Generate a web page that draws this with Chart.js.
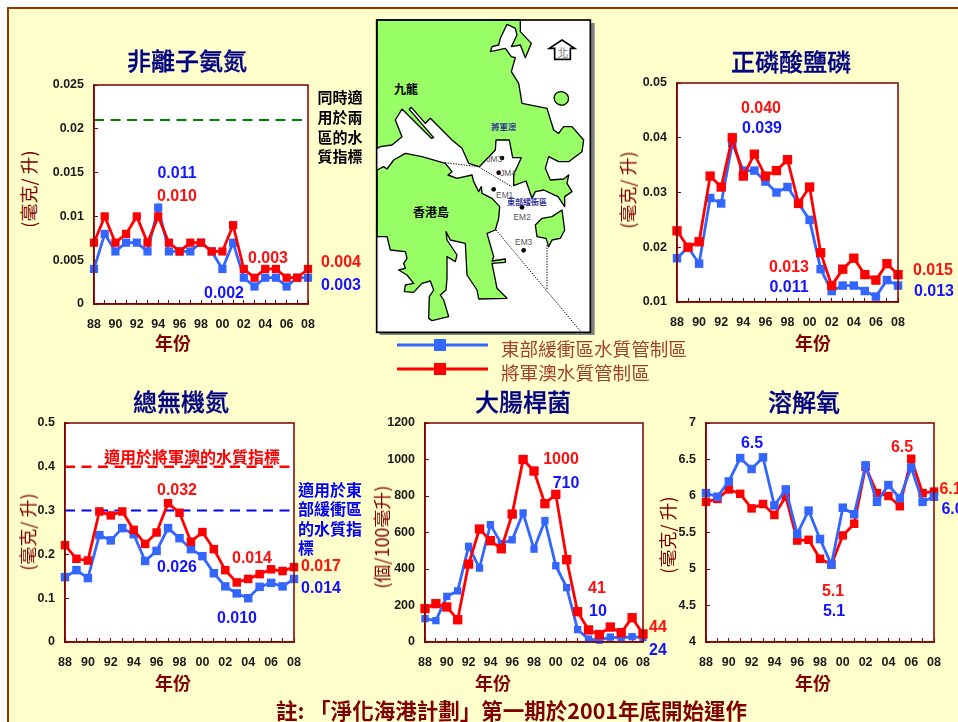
<!DOCTYPE html>
<html>
<head>
<meta charset="utf-8">
<script src="https://cdn.jsdelivr.net/npm/chart.js@4"></script>
<style>
html, body { margin: 0; padding: 0; background: #fff; }
body { width: 958px; height: 722px; overflow: hidden; position: relative; font-family: "Liberation Sans", sans-serif; }
#frame { position: absolute; left: 7px; top: 7px; width: 960px; height: 730px; box-sizing: border-box; border: 2.5px solid #993300; background: #ffffcc; }
canvas { position: absolute; }
.t { position: absolute; white-space: nowrap; transform: translate(-50%, -50%); line-height: 1; }
.num { font: bold 16px "Liberation Sans", sans-serif; }
.cjk { font-family: "Noto Sans CJK TC", sans-serif; }
.head { font-size: 24px; color: #000080; font-weight: 500; -webkit-text-stroke: 0.3px #000080; }
.xt { font-size: 18px; color: #800000; font-weight: bold; }
.yt { font-size: 18px; color: #800000; transform: translate(-50%, -50%) rotate(-90deg); }
svg { position: absolute; }
</style>
</head>
<body>
<div id="frame"></div>

<svg style="left:372px;top:15px" width="225" height="320" viewBox="0 0 675 960">
  <rect x="23" y="24" width="645" height="936" fill="#808080"/>
  <rect x="14" y="15" width="641" height="937" fill="#fff"/>
  <g fill="#99ff66" stroke="#000" stroke-width="4" stroke-linejoin="round">
    <path d="M15 15 L445 15 L445 50 L478 85 L460 128 L445 90 L418 95 L435 60 L430 40 L405 28 L385 70 L380 90 L360 95 L355 110 L400 100 L418 125 L430 128 L418 170 L440 205 L450 265 L525 280 L545 345 L560 355 L575 335 L600 335 L635 375 L630 410 L590 440 L560 440 L530 425 L520 460 L535 495 L575 492 L590 480 L585 505 L600 530 L578 545 L578 575 L558 545 L515 525 L490 530 L480 550 L462 498 L425 512 L425 478 L448 428 L422 428 L412 375 L372 375 L370 405 L322 455 L290 445 L270 400 L240 375 L175 310 L160 325 L118 277 L112 283 L185 368 L178 370 L90 282 L70 315 L90 365 L60 390 L25 395 L15 400 Z"/>
    <path d="M15 465 L35 455 L45 462 L65 435 L100 415 L150 425 L220 445 L240 470 L228 480 L255 490 L300 480 L305 500 L320 530 L328 515 L330 535 L360 550 L383 575 L380 610 L370 645 L345 655 L365 725 L360 738 L400 732 L400 742 L360 745 L375 820 L405 850 L320 852 L315 825 L285 780 L280 685 L235 675 L222 650 L225 675 L255 720 L250 740 L225 725 L225 790 L222 825 L205 840 L215 855 L230 905 L180 917 L170 910 L172 845 L185 825 L175 798 L150 805 L125 832 L97 830 L100 810 L125 805 L105 780 L80 765 L100 760 L95 745 L105 730 L100 710 L55 705 L45 665 L15 665 Z"/>
    <path d="M490 630 L510 610 L540 605 L570 585 L578 645 L565 670 L540 675 L530 695 L522 670 L495 665 Z"/>
    <ellipse cx="568" cy="250" rx="22" ry="20" transform="rotate(20 568 250)"/>
  </g>
  <g fill="none" stroke="#000" stroke-width="3" stroke-dasharray="4 4">
    <path d="M219 443 L319 455 L419 515"/>
    <path d="M372 645 L625 948"/>
    <path d="M525 690 L525 825"/>
  </g>
  <rect x="14" y="15" width="641" height="937" fill="none" stroke="#000" stroke-width="5"/>
  <g fill="#000">
    <circle cx="390" cy="429" r="7"/><circle cx="380" cy="473" r="7"/><circle cx="365" cy="523" r="7"/><circle cx="450" cy="577" r="7"/><circle cx="455" cy="706" r="7"/>
  </g>
  <path d="M570 75 L608 100 L595 100 L595 133 L548 133 L548 100 L532 100 Z" fill="#fff" stroke="#000" stroke-width="5"/>
  <text x="572" y="126" font-size="33" fill="#777" text-anchor="middle" font-family="Noto Sans CJK TC">北</text>
  <g font-family="Liberation Sans" font-size="25" fill="#555" text-anchor="middle">
    <text x="367" y="440">JM3</text><text x="408" y="482">JM4</text><text x="398" y="548">EM1</text><text x="450" y="614">EM2</text><text x="455" y="689">EM3</text>
  </g>
  <g font-family="Noto Sans CJK TC" font-weight="bold" text-anchor="middle">
    <text x="102" y="238" font-size="36" fill="#000">九龍</text>
    <text x="177" y="606" font-size="36" fill="#000">香港島</text>
    <text x="395" y="346" font-size="25" fill="#333399">將軍澳</text>
    <text x="465" y="570" font-size="24" fill="#333399">東部緩衝區</text>
  </g>
</svg>

<svg style="left:390px;top:335px" width="105" height="45">
  <line x1="7" y1="10" x2="98" y2="10" stroke="#3366ff" stroke-width="3"/>
  <rect x="44" y="4" width="12" height="12" fill="#3366ff"/>
  <line x1="7" y1="34" x2="98" y2="34" stroke="#ff0000" stroke-width="3"/>
  <rect x="44" y="28" width="12" height="12" fill="#ff0000"/>
</svg>

<script>
const years = ['88','89','90','91','92','93','94','95','96','97','98','99','00','01','02','03','04','05','06','07','08'];

// 非離子氨氮
const nh3Ticks = [0, 0.005, 0.01, 0.015, 0.02, 0.025];
const nh3East = [0.004,0.008,0.006,0.007,0.007,0.006,0.011,0.006,0.006,0.006,0.007,0.006,0.004,0.007,0.003,0.002,0.003,0.003,0.002,0.003,0.003];
const nh3Junk = [0.007,0.010,0.007,0.008,0.010,0.007,0.010,0.007,0.006,0.007,0.007,0.006,0.006,0.009,0.004,0.003,0.004,0.004,0.003,0.003,0.004];
const nh3Limit = [0.021,0.021,0.021,0.021,0.021,0.021,0.021,0.021,0.021,0.021,0.021,0.021,0.021,0.021,0.021,0.021,0.021,0.021,0.021,0.021,0.021];

// 正磷酸鹽磷
const po4Ticks = [0.01, 0.02, 0.03, 0.04, 0.05];
const po4East = [0.018,0.020,0.017,0.029,0.028,0.039,0.034,0.034,0.032,0.030,0.031,0.028,0.025,0.016,0.012,0.013,0.013,0.012,0.011,0.014,0.013];
const po4Junk = [0.023,0.020,0.021,0.033,0.031,0.040,0.033,0.037,0.033,0.034,0.036,0.028,0.031,0.019,0.013,0.016,0.018,0.015,0.014,0.017,0.015];

// 總無機氮
const tinTicks = [0, 0.1, 0.2, 0.3, 0.4, 0.5];
const tinEast = [0.148,0.164,0.146,0.244,0.232,0.260,0.246,0.185,0.208,0.260,0.237,0.212,0.196,0.157,0.127,0.111,0.100,0.126,0.135,0.127,0.144];
const tinJunk = [0.221,0.190,0.186,0.298,0.289,0.298,0.256,0.224,0.250,0.317,0.295,0.229,0.251,0.212,0.164,0.136,0.144,0.155,0.166,0.162,0.171];
const tinLimitJunk = [0.4,0.4,0.4,0.4,0.4,0.4,0.4,0.4,0.4,0.4,0.4,0.4,0.4,0.4,0.4,0.4,0.4,0.4,0.4,0.4,0.4];
const tinLimitEast = [0.3,0.3,0.3,0.3,0.3,0.3,0.3,0.3,0.3,0.3,0.3,0.3,0.3,0.3,0.3,0.3,0.3,0.3,0.3,0.3,0.3];

// 大腸桿菌
const ecoliTicks = [0, 200, 400, 600, 800, 1000, 1200];
const ecoliEast = [128,117,250,280,524,405,643,539,560,707,509,665,418,298,68,16,10,27,22,29,24];
const ecoliJunk = [183,210,192,122,427,619,555,511,701,1000,937,758,809,451,166,66,41,82,51,133,44];

// 溶解氧
const doTicks = [4, 4.5, 5, 5.5, 6, 6.5, 7];
const doEast = [6.04,5.99,6.20,6.52,6.37,6.53,5.87,6.09,5.48,5.80,5.41,5.06,5.84,5.75,6.42,5.92,6.15,5.97,6.39,5.92,5.99];
const doJunk = [5.92,5.96,6.09,6.03,5.83,5.89,5.74,5.99,5.39,5.40,5.14,5.06,5.46,5.62,6.40,6.04,6.00,5.86,6.51,6.04,6.06];

const RED = '#ff0000';
const BLUE = '#3366ff';
const LABEL_RED = '#ff1010';
const LABEL_BLUE = '#1414ff';
const DARK = '#800000';
const marginL = 48, marginR = 16, marginT = 10, marginB = 32;

const plotFrame = {
    id: 'plotFrame',
    beforeDraw(chart) {
        const a = chart.chartArea, ctx = chart.ctx;
        ctx.save();
        ctx.fillStyle = '#fff';
        ctx.fillRect(a.left, a.top, a.width, a.height);
        ctx.restore();
    },
    afterDraw(chart) {
        const a = chart.chartArea, ctx = chart.ctx;
        ctx.save();
        ctx.strokeStyle = DARK;
        ctx.lineWidth = 1.5;
        ctx.strokeRect(a.left, a.top, a.width, a.height);
        ctx.restore();
    }
};

function series(data, color, order, size) {
    return {
        data: data,
        borderColor: color,
        backgroundColor: color,
        borderWidth: 2.8,
        pointStyle: 'rect',
        pointRadius: size,
        pointBorderWidth: 0,
        tension: 0,
        clip: false,
        order: order
    };
}

function limit(data, color, width) {
    return {
        data: data,
        borderColor: color,
        borderWidth: width,
        borderDash: [10, 6.5],
        pointRadius: 0,
        tension: 0,
        order: 3
    };
}

function addChart(left, right, top, bottom, ticks, datasets) {
    const canvas = document.createElement('canvas');
    const w = right - left + marginL + marginR;
    const h = bottom - top + marginT + marginB;
    canvas.width = w;
    canvas.height = h;
    canvas.style.left = (left - marginL) + 'px';
    canvas.style.top = (top - marginT) + 'px';
    document.body.appendChild(canvas);
    const font = { family: '"Liberation Sans"', size: 12.5, weight: 'bold' };
    return new Chart(canvas, {
        type: 'line',
        data: { labels: years, datasets: datasets },
        plugins: [plotFrame],
        options: {
            responsive: false,
            animation: false,
            events: [],
            layout: { padding: { top: marginT, right: marginR, left: 0, bottom: 0 } },
            plugins: { legend: { display: false }, tooltip: { enabled: false } },
            scales: {
                x: {
                    type: 'category',
                    offset: false,
                    // the tick padding would otherwise shrink the plot
                    afterFit: (s) => { s.height = marginB; s.paddingLeft = 0; s.paddingRight = 0; },
                    border: { color: DARK, width: 1.5 },
                    grid: { drawOnChartArea: false, color: DARK, tickLength: -4 },
                    ticks: {
                        autoSkip: false, maxRotation: 0, padding: 17, color: '#1a1a1a', font: font,
                        callback: (v, i) => (i % 2 ? '' : years[i])
                    }
                },
                y: {
                    min: ticks[0],
                    max: ticks[ticks.length - 1],
                    afterBuildTicks: (s) => { s.ticks = ticks.map((v) => ({ value: v })); },
                    afterFit: (s) => { s.width = marginL; s.paddingTop = 0; s.paddingBottom = 0; },
                    border: { color: DARK, width: 1.5 },
                    grid: { drawOnChartArea: false, color: DARK, tickLength: -4 },
                    ticks: { padding: 14, color: '#1a1a1a', font: font, callback: (v) => String(v) }
                }
            }
        }
    });
}

addChart(93.5, 308, 85, 304, nh3Ticks, [
    limit(nh3Limit, '#008000', 2),
    series(nh3East, BLUE, 2, 5.8),
    series(nh3Junk, RED, 1, 5.8)
]);
addChart(677, 898, 83, 302, po4Ticks, [
    series(po4East, BLUE, 2, 6),
    series(po4Junk, RED, 1, 6.6)
]);
addChart(65, 294, 423, 642, tinTicks, [
    limit(tinLimitJunk, RED, 2.5),
    limit(tinLimitEast, '#0000ff', 2),
    series(tinEast, BLUE, 2, 6),
    series(tinJunk, RED, 1, 6)
]);
addChart(425, 643, 423, 642, ecoliTicks, [
    series(ecoliEast, BLUE, 2, 5.2),
    series(ecoliJunk, RED, 1, 6.6)
]);
addChart(706, 934, 423, 642, doTicks, [
    series(doJunk, RED, 2, 6),
    series(doEast, BLUE, 1, 6)
]);

function text(str, x, y, cls, color) {
    const d = document.createElement('div');
    d.className = 't ' + cls;
    d.textContent = str;
    d.style.left = x + 'px';
    d.style.top = y + 'px';
    if (color) d.style.color = color;
    document.body.appendChild(d);
}

function lines(rows, x, y, step, color, size) {
    rows.forEach((r, i) => {
        text(r, x, y + i * step, 'cjk', color);
        document.body.lastChild.style.font = 'bold ' + size + 'px "Noto Sans CJK TC"';
    });
}

// titles
text('非離子氨氮', 187, 60, 'cjk head');
text('正磷酸鹽磷', 791, 60.5, 'cjk head');
text('總無機氮', 181, 400.5, 'cjk head');
text('大腸桿菌', 523, 400.5, 'cjk head');
text('溶解氧', 804, 400.5, 'cjk head');

// axis titles
[173, 813, 173, 493, 813].forEach((x, i) => text('年份', x, i < 2 ? 342 : 681.5, 'cjk xt'));
text('(毫克/ 升)', 28, 189, 'cjk yt');
text('(毫克/ 升)', 627, 190, 'cjk yt');
text('(毫克/ 升)', 27, 532, 'cjk yt');
text('(個/100毫升)', 381, 537, 'cjk yt');
text('(毫克/ 升)', 667, 535, 'cjk yt');

// value labels
text('0.011', 177, 173, 'num', LABEL_BLUE);
text('0.010', 177, 196, 'num', LABEL_RED);
text('0.003', 268, 258, 'num', LABEL_RED);
text('0.002', 224, 292.5, 'num', LABEL_BLUE);
text('0.004', 341, 262, 'num', LABEL_RED);
text('0.003', 341, 284.5, 'num', LABEL_BLUE);

text('0.040', 761, 108, 'num', LABEL_RED);
text('0.039', 762, 128, 'num', LABEL_BLUE);
text('0.013', 789, 267, 'num', LABEL_RED);
text('0.011', 789, 287, 'num', LABEL_BLUE);
text('0.015', 933, 270, 'num', LABEL_RED);
text('0.013', 934, 290.5, 'num', LABEL_BLUE);

text('0.032', 177, 490, 'num', LABEL_RED);
text('0.026', 177, 567, 'num', LABEL_BLUE);
text('0.014', 252, 558, 'num', LABEL_RED);
text('0.010', 237, 617.5, 'num', LABEL_BLUE);
text('0.017', 321, 565.5, 'num', LABEL_RED);
text('0.014', 321, 587.5, 'num', LABEL_BLUE);

text('1000', 561, 459, 'num', LABEL_RED);
text('710', 566, 483, 'num', LABEL_BLUE);
text('41', 597, 588, 'num', LABEL_RED);
text('10', 598, 611, 'num', LABEL_BLUE);
text('44', 658, 627, 'num', LABEL_RED);
text('24', 658, 650, 'num', LABEL_BLUE);

text('6.5', 752, 443, 'num', LABEL_BLUE);
text('6.5', 902, 447, 'num', LABEL_RED);
text('5.1', 833, 591, 'num', LABEL_RED);
text('5.1', 834, 611, 'num', LABEL_BLUE);
text('6.1', 950.5, 489, 'num', LABEL_RED);
text('6.0', 952.5, 509, 'num', LABEL_BLUE);

// objective notes
lines(['同時適', '用於兩', '區的水', '質指標'], 340, 96, 19.8, '#000', 15);
lines(['適用於將軍澳的水質指標'], 192, 456, 0, '#ff0000', 16);
['適用於東', '部緩衝區', '的水質指', '標'].forEach((r, i) => {
    text(r, 298, 489 + i * 19.3, 'cjk', '#0000ff');
    const el = document.body.lastChild;
    el.style.font = 'bold 16px "Noto Sans CJK TC"';
    el.style.transform = 'translate(0, -50%)';
});

// legend labels
['東部緩衝區水質管制區', '將軍澳水質管制區'].forEach((r, i) => {
    text(r, 501, 348 + i * 24, 'cjk', '#a04030');
    const el = document.body.lastChild;
    el.style.fontSize = '18.6px';
    el.style.transform = 'translate(0, -50%)';
});

// footnote
text('註: 「淨化海港計劃」第一期於2001年底開始運作', 511.5, 709, 'cjk', DARK);
document.body.lastChild.style.font = 'bold 21.5px "Noto Sans CJK TC"';
</script>
</body>
</html>
